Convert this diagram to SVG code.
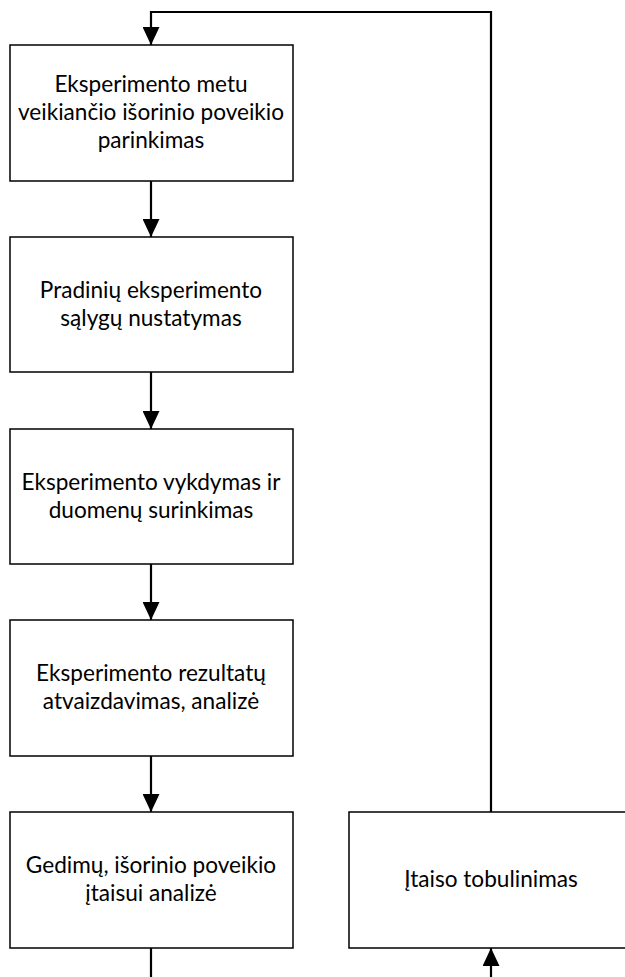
<svg xmlns="http://www.w3.org/2000/svg" width="625" height="977" viewBox="0 0 625 977">
<style>
.box{fill:#fff;stroke:#000;stroke-width:1.5}
.conn{fill:none;stroke:#000;stroke-width:2.2}
text{font-family:Lato,"Open Sans","Liberation Sans",sans-serif;font-size:22.6px;fill:#000;text-anchor:middle}
</style>
<defs>
<marker id="arr" viewBox="0 0 18 17" refX="18" refY="8.5" markerWidth="18" markerHeight="17" markerUnits="userSpaceOnUse" orient="auto">
<path d="M0,0 L18,8.5 L0,17 Z" fill="#000"/>
</marker>
</defs>
<g id="connectors">
<path class="conn" d="M491,812 V12 H151 V45" marker-end="url(#arr)"/>
<path class="conn" d="M151,181 V237" marker-end="url(#arr)"/>
<path class="conn" d="M151,372 V429" marker-end="url(#arr)"/>
<path class="conn" d="M151,564 V620" marker-end="url(#arr)"/>
<path class="conn" d="M151,756 V812" marker-end="url(#arr)"/>
<path class="conn" d="M151,948 V977"/>
<path class="conn" d="M491,977 V948" marker-end="url(#arr)"/>
</g>
<g id="n1">
<rect class="box" x="10" y="45" width="283" height="136"/>
<text x="151" y="92">Eksperimento metu</text>
<text x="151" y="120">veikiančio išorinio poveikio</text>
<text x="151" y="148">parinkimas</text>
</g>
<g id="n2">
<rect class="box" x="10" y="237" width="283" height="135"/>
<text x="151" y="298">Pradinių eksperimento</text>
<text x="151" y="326">sąlygų nustatymas</text>
</g>
<g id="n3">
<rect class="box" x="10" y="429" width="283" height="135"/>
<text x="151" y="490">Eksperimento vykdymas ir</text>
<text x="151" y="518">duomenų surinkimas</text>
</g>
<g id="n4">
<rect class="box" x="10" y="620" width="283" height="136"/>
<text x="151" y="681">Eksperimento rezultatų</text>
<text x="151" y="709">atvaizdavimas, analizė</text>
</g>
<g id="n5">
<rect class="box" x="10" y="812" width="283" height="136"/>
<text x="151" y="873">Gedimų, išorinio poveikio</text>
<text x="151" y="901">įtaisui analizė</text>
</g>
<g id="n6">
<rect class="box" x="349" y="812" width="284" height="136"/>
<text x="491" y="887">Įtaiso tobulinimas</text>
</g>
</svg>
